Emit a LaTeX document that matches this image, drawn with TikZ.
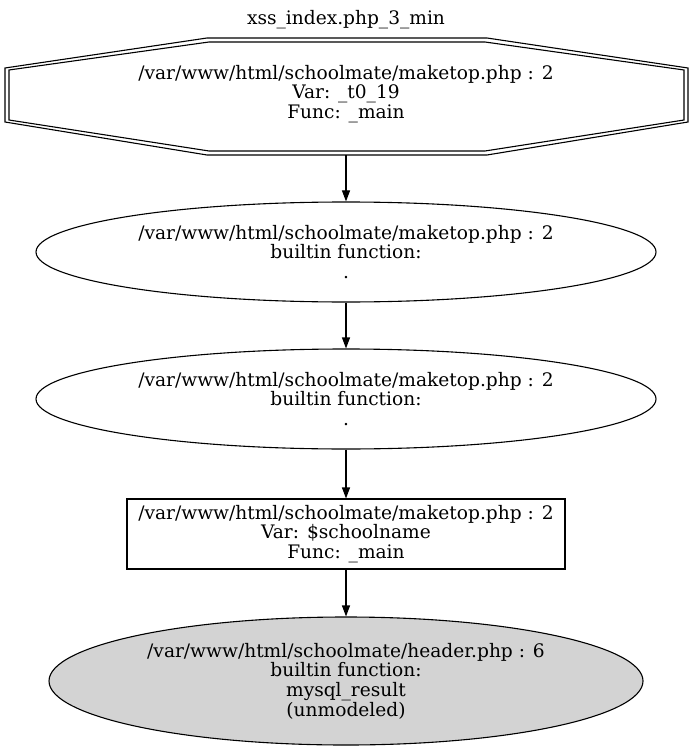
\documentclass[tikz,border=0pt]{standalone}
\usepackage{fontspec}
\setmainfont{DejaVu Serif}
\usetikzlibrary{shapes.geometric,arrows.meta}
\newcommand{\gvtext}{\fontsize{18.6}{19.6}\selectfont\lineskiplimit=-100pt\relax}
\begin{document}
\begin{tikzpicture}[x=1pt,y=-1pt,
  lbl/.style={align=center,font=\gvtext,inner sep=0pt},
  ell/.style={ellipse,draw,line width=1.1pt,minimum width=620pt,minimum height=100pt,inner sep=0pt,
    align=center,font=\gvtext},
  sink/.style={ell,fill={rgb,255:red,211;green,211;blue,211},minimum width=594pt,minimum height=128pt},
  varbox/.style={rectangle,draw,line width=1.1pt,minimum width=438pt,minimum height=70pt,inner sep=0pt,
    align=center,font=\gvtext},
  flow/.style={-{Triangle[length=11pt,width=8pt]},line width=1.1pt}]
\useasboundingbox (0,0) rectangle (693,751);
\fill[white] (0,0) rectangle (693,751);

% graph title
\node[lbl] (title) at (346,20) {xss\_index.php\_3\_min};

% double-bordered octagon around the entry node
\draw[line width=1.1pt] (207,38) -- (487,38) -- (688,68) -- (688,122) -- (487,155) -- (207,155) -- (5,122) -- (5,68) -- cycle;
\draw[line width=1.1pt] (209,42) -- (485,42) -- (684,70) -- (684,120) -- (485,151) -- (209,151) -- (9,120) -- (9,70) -- cycle;
\node[lbl,minimum width=683pt,minimum height=117pt] (top) at (346,96.5) {};
\node[lbl] (toptext) at (346,94) {/var/www/html/schoolmate/maketop.php : 2\\Var: \_t0\_19\\Func: \_main};

\node[ell] (b1) at (346,252) {/var/www/html/schoolmate/maketop.php : 2\\builtin function:\\.};
\node[ell] (b2) at (346,399) {/var/www/html/schoolmate/maketop.php : 2\\builtin function:\\.};
\node[varbox] (v) at (346,534) {/var/www/html/schoolmate/maketop.php : 2\\Var: \$schoolname\\Func: \_main};
\node[sink] (s) at (346,681) {/var/www/html/schoolmate/header.php : 6\\builtin function:\\mysql\_result\\(unmodeled)};

\draw[flow] (top.south) -- (b1.north);
\draw[flow] (b1.south) -- (b2.north);
\draw[flow] (b2.south) -- (v.north);
\draw[flow] (v.south) -- (s.north);
\end{tikzpicture}
\end{document}
